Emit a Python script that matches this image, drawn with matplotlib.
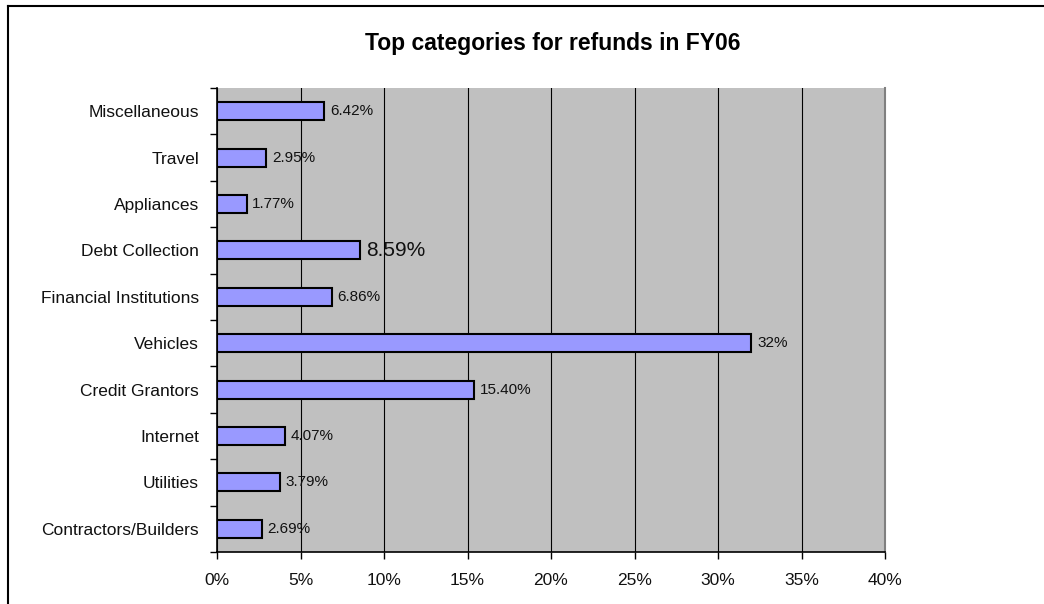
import matplotlib
matplotlib.use("Agg")
import matplotlib.pyplot as plt
from matplotlib.ticker import FixedLocator, NullFormatter
from matplotlib.lines import Line2D

categories = ["Contractors/Builders", "Utilities", "Internet", "Credit Grantors",
              "Vehicles", "Financial Institutions", "Debt Collection",
              "Appliances", "Travel", "Miscellaneous"]
values = [2.69, 3.79, 4.07, 15.40, 32.0, 6.86, 8.59, 1.77, 2.95, 6.42]
labels = ["2.69%", "3.79%", "4.07%", "15.40%", "32%", "6.86%", "8.59%",
          "1.77%", "2.95%", "6.42%"]
label_sizes = [11, 11, 11, 11, 11, 11, 15, 11, 11, 11]
xticks = [0, 5, 10, 15, 20, 25, 30, 35, 40]
xticklabels = ["0%", "5%", "10%", "15%", "20%", "25%", "30%", "35%", "40%"]
title = "Top categories for refunds in FY06"

plt.rcParams['font.family'] = ['Liberation Sans', 'DejaVu Sans']

fig = plt.figure(figsize=(10.44, 6.04), dpi=100)
ax = fig.add_axes([217/1044, 1 - 552/604, (885-217)/1044, (552-88)/604])
ax.set_facecolor("#C0C0C0")

y = list(range(len(categories)))
ax.barh(y, values, height=0.39, color="#9999FF", edgecolor="black",
        linewidth=1.5, zorder=3)
for yi, v, lab, fs in zip(y, values, labels, label_sizes):
    ax.annotate(lab, (v, yi), xytext=(4, 0), textcoords="offset points",
                va="center", ha="left", fontsize=fs, color="#111111", zorder=4)

ax.set_xlim(0, 40)
ax.set_ylim(-0.5, len(categories) - 0.5)
ax.set_xticks(xticks)
ax.set_xticklabels(xticklabels, fontsize=12.5, color="#111111")
ax.set_yticks(y)
ax.set_yticklabels(categories, fontsize=12.5, color="#111111")
ax.tick_params(axis="y", which="major", length=0, pad=13)
ax.yaxis.set_minor_locator(FixedLocator([i - 0.5 for i in range(len(categories) + 1)]))
ax.yaxis.set_minor_formatter(NullFormatter())
ax.tick_params(axis="y", which="minor", length=5, width=1, color="black")
ax.tick_params(axis="x", which="major", length=5, width=1, color="black", pad=10)

ax.grid(axis="x", color="black", linewidth=0.8, zorder=1)
ax.set_axisbelow(True)
ax.spines["top"].set_visible(False)
ax.spines["right"].set_color("#808080")
ax.spines["right"].set_linewidth(1.5)
ax.spines["left"].set_linewidth(1.2)
ax.spines["bottom"].set_linewidth(1.2)

fig.text(553/1044, 1 - 50/604, title, ha="center", va="baseline",
         fontsize=16.5, fontweight="bold")

# chart area border (top & left visible)
fig.add_artist(Line2D([8/1044, 8/1044], [0, 1 - 6/604], transform=fig.transFigure,
                      color="black", linewidth=1.5))
fig.add_artist(Line2D([8/1044, 1], [1 - 6/604, 1 - 6/604], transform=fig.transFigure,
                      color="black", linewidth=1.5))

fig.savefig("out.png", dpi=100)
